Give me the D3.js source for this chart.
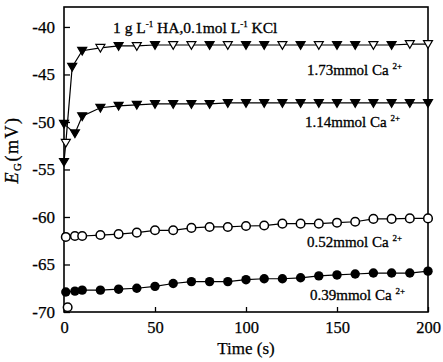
<!DOCTYPE html>
<html>
<head>
<meta charset="utf-8">
<script src="https://cdn.jsdelivr.net/npm/d3@7"></script>
<style>
  html, body { margin: 0; padding: 0; background: #fff; }
  svg { display: block; }
  text { font-family: "Liberation Serif", "DejaVu Serif", serif; fill: #000; }
</style>
</head>
<body>
<svg id="chart" width="443" height="362"></svg>
<script>
// ---------- data ----------
const timesCircles = [1, 6, 10, 20, 30, 40, 50, 60, 70, 80, 90, 100, 110, 120, 130, 140, 150, 160, 170, 180, 190, 200];
const ca052 = [-62.1, -62.0, -62.0, -61.9, -61.8, -61.65, -61.4, -61.4, -61.15, -61.05, -61.05, -60.95, -60.9, -60.7, -60.7, -60.7, -60.6, -60.5, -60.2, -60.2, -60.15, -60.15];
const ca039 = [-67.9, -67.8, -67.7, -67.7, -67.6, -67.5, -67.3, -67.0, -66.8, -66.8, -66.8, -66.6, -66.5, -66.5, -66.4, -66.2, -66.1, -66.0, -65.9, -65.9, -65.9, -65.7];
const strayTime = [2];
const strayValue = [-69.5];

const times173 = [0, 1, 4.5, 10, 20, 30, 40, 50, 60, 70, 80, 90, 100, 110, 120, 130, 140, 150, 160, 170, 180, 190, 200];
const ca173 = [-54.2, -52.2, -44.2, -42.5, -42.2, -42.0, -42.0, -41.9, -41.9, -41.9, -41.9, -41.9, -41.9, -41.9, -41.9, -41.9, -41.9, -41.9, -41.9, -41.9, -41.9, -41.8, -41.8];

const times114 = [0, 6, 10, 20, 30, 40, 50, 60, 70, 80, 90, 100, 110, 120, 130, 140, 150, 160, 170, 180, 190, 200];
const ca114 = [-50.2, -51.2, -49.4, -48.5, -48.3, -48.2, -48.1, -48.1, -48.1, -48.1, -48.0, -48.0, -48.0, -48.0, -48.0, -48.0, -48.0, -48.0, -48.0, -48.0, -48.0, -48.0];

const xTicks = [0, 50, 100, 150, 200];
const yTicks = [-40, -45, -50, -55, -60, -65, -70];
const labels = ["1.73mmol Ca", "1.14mmol Ca", "0.52mmol Ca", "0.39mmol Ca"];
const labelAt = [-43.26, -48.75, -61.4, -66.95];

// ---------- styles (marker fill pattern as seen in the scan) ----------
const open173 = [0,1,0,0,1,0,1,0,1,1,0,1,0,0,1,0,1,0,0,1,0,1,1];

// ---------- chart ----------
const svg = d3.select("#chart");
const x = d3.scaleLinear().domain([0, 200]).range([64, 428]);
const y = d3.scaleLinear().domain([-70, -37.9]).range([312, 7]);

// frame
svg.append("rect")
  .attr("x", x(0)).attr("y", y(-37.9))
  .attr("width", x(200) - x(0)).attr("height", y(-70) - y(-37.9))
  .attr("fill", "none").attr("stroke", "#000").attr("stroke-width", 1.6);

// axes (ticks inward)
const yAxis = d3.axisLeft(y).tickValues(yTicks).tickSize(-6).tickPadding(9)
  .tickFormat(d => "-" + Math.abs(d));
const gy = svg.append("g").attr("transform", `translate(${x(0)},0)`).call(yAxis);
gy.select(".domain").remove();
gy.selectAll("line").attr("stroke", "#000").attr("stroke-width", 1.3);
gy.selectAll("text").attr("font-size", 17).attr("font-family", "Liberation Serif")
  .attr("stroke", "#000").attr("stroke-width", 0.25);

const xAxis = d3.axisBottom(x).tickValues(xTicks).tickSize(-5).tickPadding(9);
const gx = svg.append("g").attr("transform", `translate(0,${y(-70)})`).call(xAxis);
gx.select(".domain").remove();
gx.selectAll("line").attr("stroke", "#000").attr("stroke-width", 1.3);
gx.selectAll("text").attr("font-size", 16.5).attr("font-family", "Liberation Serif")
  .attr("stroke", "#000").attr("stroke-width", 0.25);

// axis titles
svg.append("text").attr("x", (x(0) + x(200)) / 2).attr("y", 354)
  .attr("text-anchor", "middle").attr("font-size", 17)
  .attr("stroke", "#000").attr("stroke-width", 0.25).text("Time (s)");

const yt = svg.append("text")
  .attr("transform", `translate(18,150) rotate(-90)`)
  .attr("text-anchor", "middle").attr("font-size", 18).attr("letter-spacing", 1.5)
  .attr("stroke", "#000").attr("stroke-width", 0.3);
yt.append("tspan").attr("font-style", "italic").text("E");
yt.append("tspan").attr("font-size", 11).attr("dy", 3).text("G");
yt.append("tspan").attr("dy", -3).text("(mV)");

// line generator
const line = d3.line().x(d => x(d[0])).y(d => y(d[1]));
const tri = "M-4.5,-3.4L4.5,-3.4L0,4.3Z";

function series(ts, vs) { return ts.map((t, i) => [t, vs[i]]); }

const d173 = series(times173, ca173);
const d114 = series(times114, ca114);
const d052 = series(timesCircles, ca052);
const d039 = series(timesCircles, ca039);

[d173, d114, d052, d039].forEach(d => {
  svg.append("path").attr("d", line(d)).attr("fill", "none")
    .attr("stroke", "#000").attr("stroke-width", 1.2);
});

// triangles
svg.append("g").selectAll("path").data(d173).join("path")
  .attr("d", tri)
  .attr("transform", d => `translate(${x(d[0])},${y(d[1])})`)
  .attr("fill", (d, i) => open173[i] ? "#fff" : "#000")
  .attr("stroke", "#000").attr("stroke-width", 1.2);

svg.append("g").selectAll("path").data(d114).join("path")
  .attr("d", tri)
  .attr("transform", d => `translate(${x(d[0])},${y(d[1])})`)
  .attr("fill", "#000").attr("stroke", "#000").attr("stroke-width", 1.2);

// circles
svg.append("g").selectAll("circle").data(d052).join("circle")
  .attr("cx", d => x(d[0])).attr("cy", d => y(d[1])).attr("r", 4.3)
  .attr("fill", "#fff").attr("stroke", "#000").attr("stroke-width", 1.5);

svg.append("g").selectAll("circle").data(d039).join("circle")
  .attr("cx", d => x(d[0])).attr("cy", d => y(d[1])).attr("r", 4.7)
  .attr("fill", "#000");

svg.append("g").selectAll("circle").data(series(strayTime, strayValue)).join("circle")
  .attr("cx", d => x(d[0])).attr("cy", d => y(d[1])).attr("r", 4.3)
  .attr("fill", "#fff").attr("stroke", "#000").attr("stroke-width", 1.5);

// annotation
const ann = svg.append("text").attr("x", 113).attr("y", 33).attr("font-size", 15.5)
  .attr("stroke", "#000").attr("stroke-width", 0.3);
ann.append("tspan").text("1 g L");
ann.append("tspan").attr("font-size", 9).attr("dy", -6).text("-1");
ann.append("tspan").attr("dy", 6).text(" HA,0.1mol L");
ann.append("tspan").attr("font-size", 9).attr("dy", -6).text("-1");
ann.append("tspan").attr("dy", 6).text(" KCl");

// series labels
const labelX = [307, 305, 307, 310];
labels.forEach((l, i) => {
  const t = svg.append("text").attr("x", labelX[i])
    .attr("y", y(labelAt[i]) + 17).attr("font-size", 15)
    .attr("stroke", "#000").attr("stroke-width", 0.3);
  t.append("tspan").text(l + " ");
  t.append("tspan").attr("font-size", 9).attr("dy", -6).text("2+");
});
</script>
</body>
</html>
